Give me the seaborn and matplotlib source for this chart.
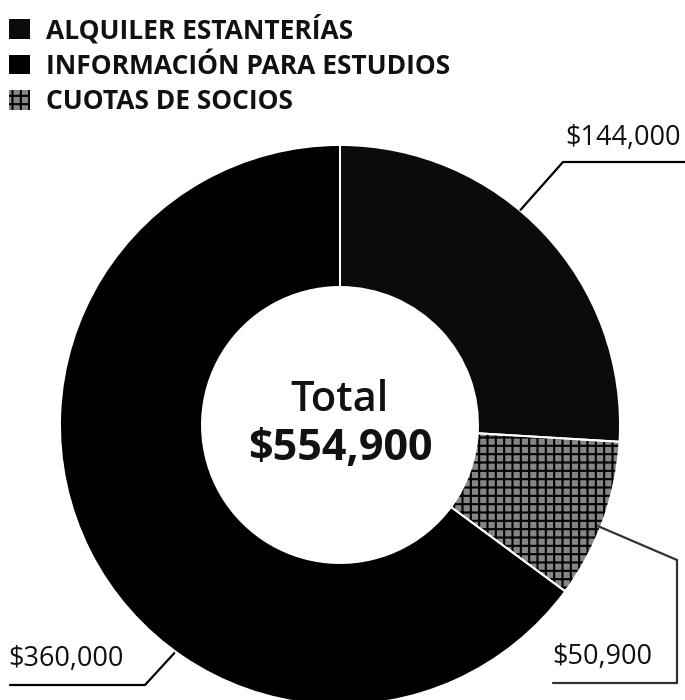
import numpy as np
import matplotlib
matplotlib.use("Agg")
import matplotlib.pyplot as plt
import seaborn as sns

# Revenue breakdown
categories = ["ALQUILER ESTANTERÍAS", "CUOTAS DE SOCIOS", "INFORMACIÓN PARA ESTUDIOS"]
amounts = [144000, 50900, 360000]
amount_labels = ["$144,000", "$50,900", "$360,000"]
legend_order = ["ALQUILER ESTANTERÍAS", "INFORMACIÓN PARA ESTUDIOS", "CUOTAS DE SOCIOS"]
total_label = "$554,900"

sns.set_theme(style="white")
plt.rcParams["font.family"] = ["Open Sans", "DejaVu Sans"]
plt.rcParams["hatch.linewidth"] = 1.5

colors = sns.color_palette(["#0b0b0b", "#858585", "#000000"])
hatches = ["", "++", ""]

W, H = 685, 700
fig = plt.figure(figsize=(W / 100, H / 100), dpi=100)
ax = fig.add_axes([0, 0, 1, 1])

cx, cy = 340, H - 425
r_out, r_in = 280, 138

wedges, _ = ax.pie(amounts, colors=colors, hatch=hatches, startangle=90,
                   counterclock=False, center=(cx, cy), radius=r_out,
                   wedgeprops=dict(width=r_out - r_in, edgecolor="black", linewidth=0))
# thin white separators between slices
ax.pie(amounts, colors=["none"] * 3, startangle=90, counterclock=False,
       center=(cx, cy), radius=r_out,
       wedgeprops=dict(width=r_out - r_in, edgecolor="white", linewidth=1.4, fill=False))

ax.set_xlim(0, W)
ax.set_ylim(0, H)
ax.set_aspect("equal")
ax.axis("off")

# centre label
ax.text(cx, H - 400, "Total", ha="center", va="center", fontsize=30,
        fontweight="semibold", color="#111")
ax.text(cx, H - 449, total_label, ha="center", va="center", fontsize=31,
        fontweight="bold", color="#111")

# leader lines and value labels
def edge_point(angle_deg, r):
    a = np.deg2rad(angle_deg)
    return cx + r * np.cos(a), cy + r * np.sin(a)

lab_fs = 19.5
# $144,000
x0, y0 = edge_point(50, 280)
ax.plot([x0, 563, 685], [y0, H - 162, H - 162], color="black", lw=1.6,
        solid_capstyle="butt")
ax.text(681, H - 138, amount_labels[0], ha="right", va="center", fontsize=lab_fs,
        color="#111")
# $50,900
x0, y0 = edge_point(-21.4, 277)
ax.plot([x0, 677, 677, 553], [y0, H - 560, H - 683, H - 683], color="#333",
        lw=1.6, solid_joinstyle="miter")
ax.text(552, H - 657, amount_labels[1], ha="left", va="center", fontsize=lab_fs,
        color="#111")
# $360,000
x0, y0 = edge_point(234, 282)
ax.plot([x0, 145, 10], [y0, H - 685, H - 685], color="black", lw=1.6)
ax.text(8, H - 659, amount_labels[2], ha="left", va="center", fontsize=lab_fs,
        color="#111")

# legend
handles = [wedges[categories.index(c)] for c in legend_order]
leg = ax.legend(handles, legend_order, loc="upper left",
                bbox_to_anchor=(9 / W, 1 - 15 / H), frameon=False,
                prop=dict(size=19, weight="bold"), handlelength=0.78,
                handleheight=0.78, handletextpad=0.62, labelspacing=0.31,
                borderpad=0, borderaxespad=0)
for t in leg.get_texts():
    t.set_color("#111")

fig.savefig("out.png", dpi=100, facecolor="white")
